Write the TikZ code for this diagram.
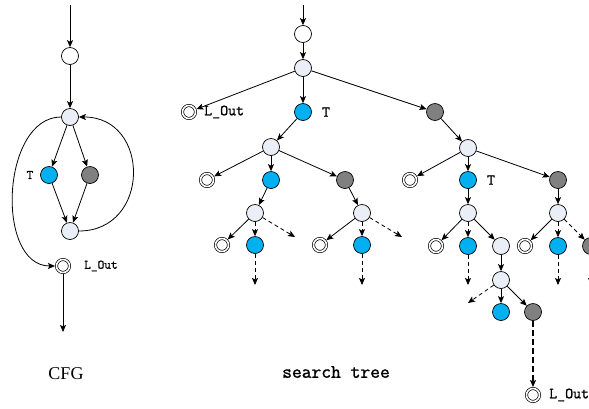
\documentclass[tikz,border=0pt]{standalone}
\usepackage{fontspec}
\newfontfamily\cfgfont{Liberation Serif}
\newfontfamily\labfont[FakeBold=1.2]{Latin Modern Mono}
\usetikzlibrary{arrows.meta}
\definecolor{nodeblue}{RGB}{0,176,240}
\definecolor{nodegrey}{RGB}{128,128,128}
\definecolor{nodelight}{RGB}{233,238,247}

\begin{document}
\begin{tikzpicture}[x=1pt,y=-1pt,
vtx/.style={circle,draw,line width=.7pt,minimum size=17pt,inner sep=0pt},
wh/.style={vtx,fill=white},
lt/.style={vtx,fill=nodelight},
bl/.style={vtx,fill=nodeblue},
gr/.style={vtx,fill=nodegrey},
ex/.style={circle,draw,line width=.7pt,double,double distance=1.6pt,minimum size=13pt,inner sep=0pt,outer sep=1.5pt},
arr/.style={-{Stealth[length=7pt,width=6pt,inset=1.5pt]},line width=.8pt},
darr/.style={arr,dash pattern=on 4pt off 3pt},
tarr/.style={arr,line width=1.8pt,dash pattern=on 6pt off 3pt},
lab/.style={font=\labfont\fontsize{15.5}{17}\selectfont,anchor=west,inner sep=0pt},
clab/.style={lab,font=\labfont\fontsize{13}{15}\selectfont}]
\useasboundingbox (0,0) rectangle (589,408);
% CFG
\coordinate (cin) at (70,5);
\node[wh] (c1) at (70,56) {};
\node[lt] (c2) at (70,117) {};
\node[bl] (ct) at (49,175) {};
\node[gr] (cg) at (90,175) {};
\node[lt] (cm) at (70,231) {};
\node[ex] (cl) at (63,266) {};
\coordinate (cout) at (63,332);
\draw[arr] (cin) -- (c1);
\draw[arr] (c1) -- (c2);
\draw[arr] (c2) -- (ct);
\draw[arr] (c2) -- (cg);
\draw[arr] (ct) -- (cm);
\draw[arr] (cg) -- (cm);
\draw[arr] (cm.east) .. controls +(72,0) and +(72,0) .. (c2.east);
\draw[arr] (c2.west) .. controls +(-60,0) and +(-60,0) .. (cl.west);
\draw[arr] (cl) -- (cout);
\node[clab,anchor=center] at (30,175) {T};
\node[clab] at (84,266) {L\_Out};
\node[font=\cfgfont\fontsize{18}{20}\selectfont] (cfg) at (66,374) {CFG};
% search tree
\coordinate (tin) at (303,5);
\node[wh] (t0) at (303,34) {};
\node[lt] (t1) at (303,68) {};
\node[ex] (tx1) at (189,112) {};
\node[bl] (tb1) at (303,112) {};
\node[gr] (tg1) at (435,112) {};
\draw[arr] (tin) -- (t0);
\draw[arr] (t0) -- (t1);
\draw[arr] (t1) -- (tx1);
\draw[arr] (t1) -- (tb1);
\draw[arr] (t1) -- (tg1);
\node[lab] at (204,112) {L\_Out};
\node[lab,anchor=center] at (326,112) {T};
% left part
\node[lt] (ta) at (271,147) {};
\node[ex] (tx2) at (207,180) {};
\node[bl] (tb2) at (271,180) {};
\node[gr] (tg2) at (345,180) {};
\draw[arr] (tb1) -- (ta);
\draw[arr] (ta) -- (tx2);
\draw[arr] (ta) -- (tb2);
\draw[arr] (ta) -- (tg2);
\node[lt] (tbb) at (255,213) {};
\node[ex] (tx3) at (222,245) {};
\node[bl] (tb3) at (255,245) {};
\coordinate (tbd) at (295,237);
\coordinate (tbe) at (255,285);
\draw[arr] (tb2) -- (tbb);
\draw[arr] (tbb) -- (tx3);
\draw[darr] (tbb) -- (tb3);
\draw[darr] (tbb) -- (tbd);
\draw[darr] (tb3) -- (tbe);
\node[lt] (tc) at (362,213) {};
\node[ex] (tx4) at (320,245) {};
\node[bl] (tb4) at (362,245) {};
\coordinate (tcd) at (402,237);
\coordinate (tce) at (362,285);
\draw[arr] (tg2) -- (tc);
\draw[arr] (tc) -- (tx4);
\draw[darr] (tc) -- (tb4);
\draw[darr] (tc) -- (tcd);
\draw[darr] (tb4) -- (tce);
% right part
\node[lt] (td) at (468,148) {};
\node[ex] (tx5) at (410,180) {};
\node[bl] (tb5) at (468,180) {};
\node[gr] (tg5) at (558,180) {};
\draw[arr] (tg1) -- (td);
\draw[arr] (td) -- (tx5);
\draw[arr] (td) -- (tb5);
\draw[arr] (td) -- (tg5);
\node[lab,anchor=center] at (491,180) {T};
\node[lt] (te) at (468,213) {};
\node[ex] (tx6) at (436,246) {};
\node[bl] (tb6) at (468,246) {};
\node[lt] (tf) at (501,246) {};
\coordinate (tee) at (468,285);
\draw[arr] (tb5) -- (te);
\draw[arr] (te) -- (tx6);
\draw[darr] (te) -- (tb6);
\draw[arr] (te) -- (tf);
\draw[darr] (tb6) -- (tee);
\node[lt] (tg) at (501,280) {};
\coordinate (tgd) at (468,303);
\node[bl] (tb7) at (501,312) {};
\node[gr] (tg7) at (533,312) {};
\node[ex] (tx7) at (533,395) {};
\draw[arr] (tf) -- (tg);
\draw[darr] (tg) -- (tgd);
\draw[arr] (tg) -- (tb7);
\draw[arr] (tg) -- (tg7);
\draw[tarr] (tg7) -- (tx7);
\node[lab] at (549,395) {L\_Out};
\node[lt] (th) at (558,213) {};
\node[ex] (tx8) at (525,246) {};
\node[bl] (tb8) at (558,246) {};
\node[gr] (tg8) at (591,246) {};
\coordinate (the) at (558,285);
\coordinate (tge) at (591,285);
\draw[arr] (tg5) -- (th);
\draw[arr] (th) -- (tx8);
\draw[darr] (th) -- (tb8);
\draw[darr] (th) -- (tg8);
\draw[darr] (tb8) -- (the);
\draw[darr] (tg8) -- (tge);
\node[font=\labfont\fontsize{19}{21}\selectfont] (st) at (336,372) {search tree};
\end{tikzpicture}
\end{document}
